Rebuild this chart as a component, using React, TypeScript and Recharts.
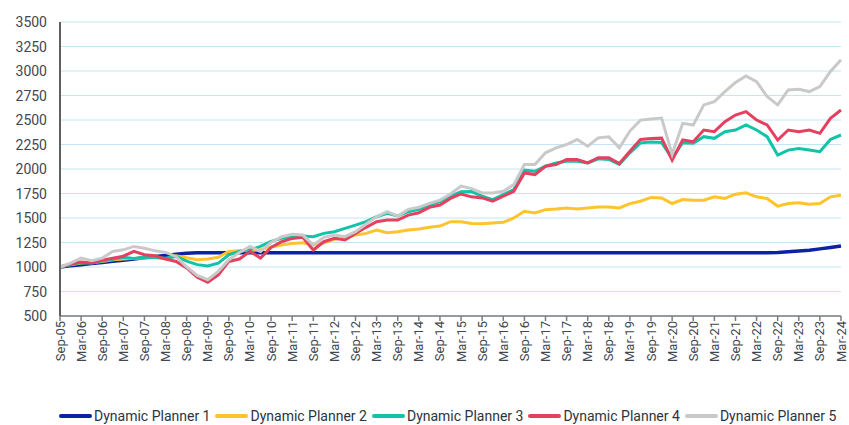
import { CartesianGrid, Line, LineChart, XAxis, YAxis } from "recharts";

const quarters = [
  "Sep-05", "Dec-05", "Mar-06", "Jun-06", "Sep-06", "Dec-06", "Mar-07", "Jun-07", "Sep-07", "Dec-07",
  "Mar-08", "Jun-08", "Sep-08", "Dec-08", "Mar-09", "Jun-09", "Sep-09", "Dec-09", "Mar-10", "Jun-10",
  "Sep-10", "Dec-10", "Mar-11", "Jun-11", "Sep-11", "Dec-11", "Mar-12", "Jun-12", "Sep-12", "Dec-12",
  "Mar-13", "Jun-13", "Sep-13", "Dec-13", "Mar-14", "Jun-14", "Sep-14", "Dec-14", "Mar-15", "Jun-15",
  "Sep-15", "Dec-15", "Mar-16", "Jun-16", "Sep-16", "Dec-16", "Mar-17", "Jun-17", "Sep-17", "Dec-17",
  "Mar-18", "Jun-18", "Sep-18", "Dec-18", "Mar-19", "Jun-19", "Sep-19", "Dec-19", "Mar-20", "Jun-20",
  "Sep-20", "Dec-20", "Mar-21", "Jun-21", "Sep-21", "Dec-21", "Mar-22", "Jun-22", "Sep-22", "Dec-22",
  "Mar-23", "Jun-23", "Sep-23", "Dec-23", "Mar-24"
];

const planner1 = [
  1000, 1012, 1024, 1036, 1046, 1058, 1070, 1082, 1094, 1106, 1118, 1130, 1140,
  1145, 1145, 1145, 1145, 1145, 1145, 1145, 1145, 1145, 1145, 1145, 1145, 1145, 1145,
  1145, 1145, 1145, 1145, 1145, 1145, 1145, 1145, 1145, 1145, 1145, 1145, 1145, 1145,
  1145, 1145, 1145, 1145, 1145, 1145, 1145, 1145, 1145, 1145, 1145, 1145, 1145, 1145,
  1145, 1145, 1145, 1145, 1145, 1145, 1145, 1145, 1145, 1145, 1145, 1145, 1145,
  1147, 1155, 1163, 1172, 1185, 1200, 1215
];

const planner2 = [
  1000, 1024, 1040, 1047, 1057, 1074, 1081, 1088, 1091, 1100, 1081, 1115, 1095, 1074, 1081, 1100, 1159, 1165, 1169, 1175, 1205,
  1224, 1241, 1248, 1224, 1248, 1282, 1303, 1326, 1343, 1377, 1350, 1360, 1377, 1388, 1405, 1418, 1462, 1462, 1445,
  1442, 1449, 1456, 1500, 1568, 1551, 1585, 1592, 1602, 1592, 1602, 1613, 1613, 1602, 1647, 1671, 1710, 1705,
  1648, 1689, 1682, 1682, 1716, 1699, 1743, 1757, 1716, 1699, 1620, 1648, 1655, 1641, 1648, 1716, 1733
];

const planner3 = [
  1000, 1025, 1045, 1040, 1060, 1080, 1100, 1088, 1100, 1098, 1090, 1108, 1060, 1024, 1010, 1040, 1125, 1160, 1175, 1210, 1262,
  1292, 1309, 1316, 1309, 1343, 1360, 1394, 1428, 1462, 1513, 1547, 1520, 1564, 1588, 1632, 1666, 1724, 1768, 1770,
  1722, 1688, 1739, 1790, 1988, 1977, 2028, 2062, 2080, 2080, 2062, 2104, 2097, 2046, 2165, 2267, 2276, 2270,
  2110, 2268, 2262, 2330, 2313, 2381, 2398, 2449, 2398, 2330, 2142, 2193, 2210, 2193, 2176, 2302, 2347
];

const planner4 = [
  1000, 1030, 1050, 1040, 1070, 1090, 1110, 1160, 1125, 1115, 1081, 1057, 990, 895, 845, 920, 1057, 1081, 1159, 1091, 1200,
  1258, 1292, 1303, 1173, 1258, 1292, 1275, 1343, 1405, 1462, 1479, 1479, 1530, 1554, 1609, 1632, 1700, 1745, 1716,
  1705, 1671, 1722, 1773, 1960, 1943, 2028, 2046, 2097, 2097, 2062, 2114, 2114, 2056, 2182, 2301, 2310, 2315,
  2090, 2296, 2279, 2398, 2381, 2483, 2551, 2585, 2500, 2449, 2296, 2398, 2381, 2398, 2364, 2517, 2602
];

const planner5 = [
  1000, 1040, 1091, 1064, 1091, 1159, 1175, 1210, 1192, 1165, 1149, 1108, 1000, 915, 870, 956, 1074, 1149, 1210, 1159, 1250,
  1309, 1333, 1326, 1224, 1303, 1326, 1309, 1360, 1439, 1513, 1564, 1520, 1588, 1609, 1649, 1683, 1745, 1826, 1800,
  1756, 1756, 1773, 1841, 2046, 2046, 2165, 2216, 2250, 2301, 2233, 2318, 2328, 2216, 2387, 2499, 2510, 2520,
  2150, 2466, 2449, 2654, 2688, 2790, 2882, 2950, 2892, 2739, 2654, 2807, 2814, 2790, 2841, 2995, 3114
];

const yTicks = [500, 750, 1000, 1250, 1500, 1750, 2000, 2250, 2500, 2750, 3000, 3250, 3500];

const series = [
  { key: "p1", name: "Dynamic Planner 1", color: "#0b22a2", width: 3.5 },
  { key: "p2", name: "Dynamic Planner 2", color: "#ffc32b", width: 3 },
  { key: "p3", name: "Dynamic Planner 3", color: "#12c3a7", width: 3 },
  { key: "p4", name: "Dynamic Planner 4", color: "#e4405f", width: 3 },
  { key: "p5", name: "Dynamic Planner 5", color: "#c9c9c9", width: 3 }
];

const data = quarters.map((q, i) => ({
  q,
  p1: planner1[i],
  p2: planner2[i],
  p3: planner3[i],
  p4: planner4[i],
  p5: planner5[i]
}));

const font = "Roboto, 'Noto Sans', sans-serif";

function XTick({ x, y, payload }: any) {
  return (
    <text
      x={x}
      y={y}
      transform={`rotate(-90 ${x} ${y})`}
      textAnchor="end"
      dominantBaseline="central"
      fill="#3f4752"
      fontSize={13}
      fontFamily={font}
    >
      {payload.value}
    </text>
  );
}

function YTick({ x, y, payload }: any) {
  return (
    <text x={x} y={y} textAnchor="end" dominantBaseline="central" fill="#3f4752" fontSize={14} fontFamily={font}>
      {payload.value}
    </text>
  );
}

export default function App() {
  return (
    <div style={{ position: "absolute", left: 0, top: 0, width: 849, height: 425, background: "#fff" }}>
      <LineChart width={849} height={425} data={data} margin={{ top: 22, right: 8, bottom: 49, left: 10 }}>
        <CartesianGrid horizontal vertical={false} stroke="#c4e4f7" strokeWidth={1} />
        <XAxis
          dataKey="q"
          interval={1}
          height={60}
          axisLine={{ stroke: "#7d7d7d", strokeWidth: 1.5 }}
          tickLine={{ stroke: "#7d7d7d", strokeWidth: 1.5 }}
          tickSize={5}
          tickMargin={0}
          tick={<XTick />}
        />
        <YAxis
          domain={[500, 3500]}
          ticks={yTicks}
          width={50}
          axisLine={{ stroke: "#5f5f5f", strokeWidth: 2 }}
          tickLine={false}
          tickSize={0}
          tickMargin={13}
          tick={<YTick />}
          interval={0}
        />
        {series.map((s) => (
          <Line
            key={s.key}
            dataKey={s.key}
            name={s.name}
            stroke={s.color}
            strokeWidth={s.width}
            dot={false}
            type="linear"
            isAnimationActive={false}
          />
        ))}
      </LineChart>
      <div
        style={{
          position: "absolute",
          left: 59,
          top: 408,
          display: "flex",
          alignItems: "center",
          fontFamily: font,
          fontSize: 14,
          color: "#2b3440"
        }}
      >
        {series.map((s) => (
          <div key={s.key} style={{ display: "flex", alignItems: "center", marginRight: 5 }}>
            <span style={{ display: "inline-block", width: 33, height: 4, borderRadius: 2, background: s.color, marginRight: 2 }} />
            <span>{s.name}</span>
          </div>
        ))}
      </div>
    </div>
  );
}
